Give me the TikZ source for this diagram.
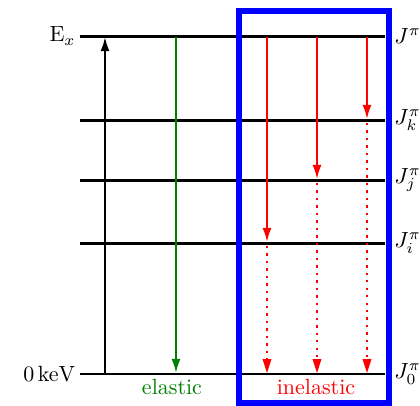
\documentclass[tikz,border=0pt]{standalone}
\usetikzlibrary{arrows.meta}
\definecolor{dgreen}{RGB}{0,128,0}
\begin{document}
\begin{tikzpicture}[x=0.4545pt,y=-0.4545pt,
  level/.style={line width=1.36pt},
  lbl/.style={inner sep=0pt},
  tr/.style={line width=0.9pt,-{Latex[length=6.4pt,width=4.1pt]}},
  dotline/.style={red,line width=1.1pt,dash pattern=on 1.1pt off 2.3pt}]
\useasboundingbox (0,0) rectangle (420,406);
% levels
\foreach \n/\y in {ex/36,k/120,j/180,i/243,g/374}{
  \coordinate (\n L) at (80,\y);
  \coordinate (\n R) at (385,\y);
  \draw[level] (\n L) -- (\n R);
}
% left labels
\node[lbl,anchor=east] (lex) at (76,36) {$\mathrm{E}_x$};
\node[lbl,anchor=east] (lg) at (76,374) {$0\,\mathrm{keV}$};
% right labels
\node[lbl,anchor=west] (rex) at (394,36) {$J^\pi$};
\node[lbl,anchor=west] (rk) at (394,120) {$J^\pi_k$};
\node[lbl,anchor=west] (rj) at (394,180) {$J^\pi_j$};
\node[lbl,anchor=west] (ri) at (394,243) {$J^\pi_i$};
\node[lbl,anchor=west] (rg) at (394,374) {$J^\pi_0$};
% excitation
\coordinate (up0) at (105,374); \coordinate (up1) at (105,37);
\draw[tr] (up0) -- (up1);
% elastic
\coordinate (el0) at (176,37); \coordinate (el1) at (176,373);
\draw[tr,dgreen] (el0) -- (el1);
\node[lbl,dgreen] (elastic) at (172,387) {elastic};
% inelastic
\coordinate (a0) at (267,37); \coordinate (a1) at (267,242); \coordinate (a2) at (267,373);
\coordinate (b0) at (317,37); \coordinate (b1) at (317,179); \coordinate (b2) at (317,373);
\coordinate (c0) at (367,37); \coordinate (c1) at (367,119); \coordinate (c2) at (367,373);
\draw[tr,red] (a0) -- (a1);
\draw[tr,red] (b0) -- (b1);
\draw[tr,red] (c0) -- (c1);
\draw[dotline] ([yshift=-1.8pt]a1) -- ([yshift=5.5pt]a2);
\draw[dotline] ([yshift=-1.8pt]b1) -- ([yshift=5.5pt]b2);
\draw[dotline] ([yshift=-1.8pt]c1) -- ([yshift=5.5pt]c2);
\fill[red] (262.5,359) -- (271.5,359) -- (267,373) -- cycle;
\fill[red] (312.5,359) -- (321.5,359) -- (317,373) -- cycle;
\fill[red] (362.5,359) -- (371.5,359) -- (367,373) -- cycle;
\node[lbl,red] (inelastic) at (316,387) {inelastic};
% box
\draw[blue,line width=2.7pt] (239,11) rectangle (389,403);
\end{tikzpicture}
\end{document}
